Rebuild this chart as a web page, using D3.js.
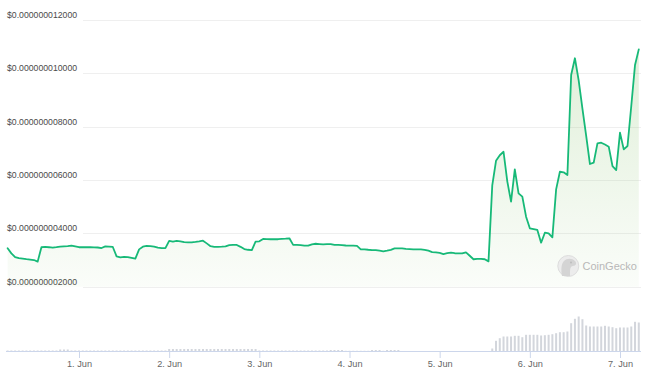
<!DOCTYPE html>
<html><head><meta charset="utf-8">
<script src="https://cdn.jsdelivr.net/npm/d3@7"></script>
<style>body{margin:0;background:#fff}svg{display:block}</style>
</head><body>
<svg id="c" width="656" height="379"></svg>
<script>
// hourly series starting 31 May 05:00 (UTC used for layout)
const startTime = Date.UTC(2024, 4, 31, 5);
// price in units of 1e-12 USD
const prices = [
  3440,3250,3110,3070,3050,3030,3015,3000,2940,3480,
  3490,3480,3465,3480,3500,3510,3520,3540,3510,3480,
  3480,3480,3480,3475,3470,3450,3510,3505,3490,3140,
  3100,3120,3110,3080,3050,3400,3500,3530,3520,3500,
  3465,3445,3445,3720,3690,3715,3700,3670,3665,3665,
  3680,3700,3725,3625,3520,3495,3490,3500,3515,3560,
  3565,3565,3495,3410,3385,3375,3690,3700,3790,3785,
  3780,3780,3780,3790,3800,3815,3570,3565,3560,3540,
  3540,3590,3610,3600,3590,3600,3600,3570,3565,3560,
  3545,3540,3540,3530,3400,3400,3385,3375,3375,3350,
  3325,3350,3380,3435,3440,3440,3420,3410,3400,3400,
  3400,3380,3350,3300,3285,3270,3225,3255,3275,3255,
  3250,3250,3290,3160,3030,3040,3040,3030,2950,5800,
  6720,6930,7060,5950,5190,6400,5500,5375,4625,4190,
  4160,4130,3650,4025,4000,3850,5650,6310,6290,6190,
  9940,10565,9735,8680,7655,6600,6650,7375,7400,7330,
  7250,6525,6375,7775,7150,7275,8775,10315,10900
];
// volume, relative units
const volumes = [
  1,1,1,1,1,1,1,1,1,1,
  1,1,1,1,2,2,2,1,1,1,
  1,1,1,1,1,1,1,1,1,1,
  1,1,1,1,1,1,1,1,1,1,
  1,1,1,2.5,2.5,2.5,2.5,2.5,2.5,2.5,
  2.5,2.5,2.5,2.5,2.5,2.5,2.5,2.5,2.5,2.5,
  2.5,2.5,2.5,2.5,2.5,2.5,2.5,1,1,1,
  1,1,1,1,1,1,1,1,1,1,
  1,1,1,1,1,1,1.5,1.5,1.5,1.5,
  0.7,0.7,0.7,0.7,0.7,0.7,0.7,1.5,1.5,1.5,
  0.7,1.5,1.5,1.5,1.5,0.5,0.5,0.5,0.5,0.5,
  0.5,0.5,0.5,0.5,0.5,0.5,0.5,0.5,0.5,0.5,
  0.5,0.5,0.5,0.5,0.5,0.5,0.5,0.5,0.5,3,
  10.7,13.3,15,15,15,15.7,15.7,14.3,16.7,16.7,
  16.7,16.7,16,16.3,16.7,17.3,18.3,19.3,19.3,20,
  28.3,32.7,35,32.3,26,25,25,25,25,25.7,
  25,24.3,23.3,24,24,24,25,29.7,29
];
const yTicks = [2000, 4000, 6000, 8000, 10000, 12000];
const yTickLabels = ["$0.000000002000","$0.000000004000","$0.000000006000","$0.000000008000","$0.000000010000","$0.000000012000"];
const xTickDates = [1,2,3,4,5,6,7].map(d => new Date(Date.UTC(2024, 5, d)));
const xTickLabels = ["1. Jun","2. Jun","3. Jun","4. Jun","5. Jun","6. Jun","7. Jun"];

const data = prices.map((p, i) => ({t: new Date(startTime + i * 3600e3), p, v: volumes[i]}));

const svg = d3.select("#c");
const FONT = "'Liberation Sans', Arial, Helvetica, sans-serif";

const x = d3.scaleUtc().domain([xTickDates[0], xTickDates[6]]).range([79, 620]);
const y = d3.scaleLinear().domain([2000, 12000]).range([286.7, 20]);
const vy = d3.scaleLinear().domain([0, 35]).range([351.5, 316.5]);

// gradient
const defs = svg.append("defs");
const grad = defs.append("linearGradient").attr("id", "g").attr("gradientUnits", "userSpaceOnUse")
  .attr("x1", 0).attr("x2", 0).attr("y1", y(12000)).attr("y2", y(2000));
grad.append("stop").attr("offset", 0).attr("stop-color", "#8dc572").attr("stop-opacity", 0.3);
grad.append("stop").attr("offset", 1).attr("stop-color", "#8dc572").attr("stop-opacity", 0.04);

// gridlines
svg.append("g").selectAll("line").data(yTicks).join("line")
  .attr("x1", 83).attr("x2", 641)
  .attr("y1", d => Math.round(y(d)) + 0.5).attr("y2", d => Math.round(y(d)) + 0.5)
  .attr("stroke", "#efefef").attr("stroke-width", 1);

// y labels
svg.append("g").selectAll("text").data(yTicks).join("text")
  .attr("x", 7).attr("y", d => y(d) - 2)
  .attr("font-family", FONT).attr("font-size", 8.7).attr("fill", "#4a4a4a")
  .text((d, i) => yTickLabels[i]);

// area + line
svg.append("path").datum(data)
  .attr("d", d3.area().x(d => x(d.t)).y0(y(2000)).y1(d => y(d.p)))
  .attr("fill", "url(#g)");
svg.append("path").datum(data)
  .attr("d", d3.line().x(d => x(d.t)).y(d => y(d.p)))
  .attr("fill", "none").attr("stroke", "#17b978").attr("stroke-width", 1.8)
  .attr("stroke-linejoin", "round").attr("stroke-linecap", "round");

// watermark
const wm = svg.append("g").attr("opacity", 1);
wm.append("circle").attr("cx", 568.3).attr("cy", 266).attr("r", 10.5)
  .attr("fill", "#ececec").attr("stroke", "#dddddd").attr("stroke-width", 1);
wm.append("path")
  .attr("d", "M562,276 C561,270 561,264 564,261 C567,258 572,258 575,261 C577,263 576,266 573,266 C571,266 570,268 570,271 L570,276 Z")
  .attr("fill", "#d4d4d4");
wm.append("circle").attr("cx", 571).attr("cy", 262.5).attr("r", 1).attr("fill", "#bdbdbd");
wm.append("text").attr("x", 582.5).attr("y", 270)
  .attr("font-family", FONT).attr("font-size", 11).attr("fill", "#b8b8b8")
  .text("CoinGecko");

// volume bars
svg.append("g").selectAll("rect").data(data).join("rect")
  .attr("x", d => x(d.t) - 1).attr("width", 2)
  .attr("y", d => vy(d.v)).attr("height", d => vy(0) - vy(d.v))
  .attr("fill", "#d3d6dc");

// x axis baseline
svg.append("line").attr("x1", 6).attr("x2", 641).attr("y1", 351.5).attr("y2", 351.5)
  .attr("stroke", "#ccd6eb").attr("stroke-width", 1);

const ax = svg.append("g").attr("transform", "translate(0,351.5)")
  .call(d3.axisBottom(x).tickValues(xTickDates).tickFormat((d, i) => xTickLabels[i]).tickSize(6.5).tickPadding(2.2));
ax.select(".domain").remove();
ax.selectAll(".tick line").attr("stroke", "#ccd6eb");
ax.selectAll(".tick text").attr("font-family", FONT).attr("font-size", 9.2).attr("fill", "#666");
</script>
</body></html>
